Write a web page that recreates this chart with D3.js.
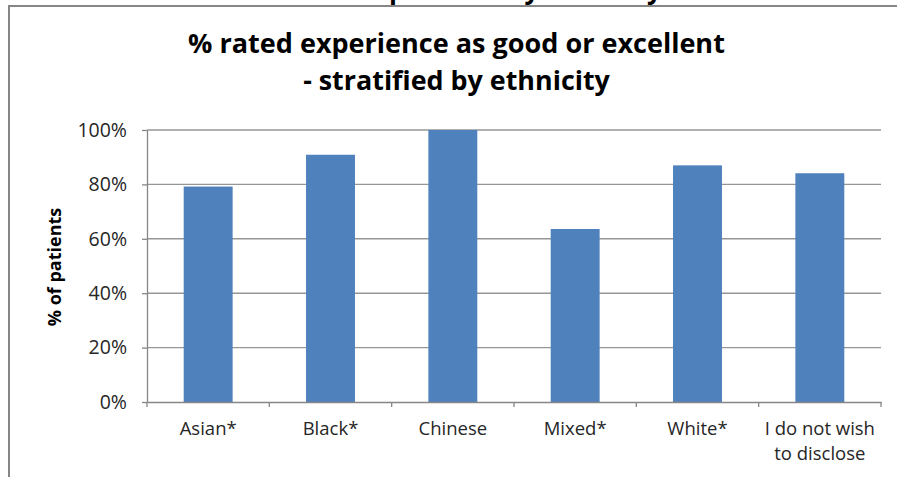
<!DOCTYPE html>
<html>
<head>
<meta charset="utf-8">
<script src="https://cdn.jsdelivr.net/npm/d3@7"></script>
<style>
  body { margin: 0; background: #fff; }
  svg { display: block; }
  text { font-family: "Open Sans", "Noto Sans", sans-serif; }
</style>
</head>
<body>
<svg width="897" height="477"></svg>
<script>
// data
const categories = ["Asian*", "Black*", "Chinese", "Mixed*", "White*", "I do not wish\nto disclose"];
const values = [79.2, 90.9, 100, 63.6, 87.0, 84.1];
const yTicks = [0, 20, 40, 60, 80, 100];
const titleLines = ["% rated experience as good or excellent", "- stratified by ethnicity"];
const yTitle = "% of patients";
const clippedHeading = "Patient experience by ethnicity";

// dimensions
const margin = {top: 130, right: 16, bottom: 75, left: 147};
const width = 897 - margin.left - margin.right;
const height = 477 - margin.top - margin.bottom;

const root = d3.select("svg");

// squeeze/stretch a text to a measured width
function fit(sel, target) {
    const size = parseFloat(sel.style("font-size"));
    const w = sel.node().getComputedTextLength();
    sel.style("font-size", (size * target / w) + "px");
}

// heading cut off by the frame above the chart (only descenders show)
const head = root.append("text")
    .attr("y", -1)
    .style("font-size", "27px")
    .style("font-weight", "bold")
    .text(clippedHeading);
{
    const n = head.node();
    const pIdx = clippedHeading.indexOf("p");
    const yIdx = clippedHeading.length - 1;
    const d = n.getSubStringLength(0, yIdx) - n.getSubStringLength(0, pIdx);
    head.style("font-size", (27 * 258 / d) + "px");
    head.attr("x", 389 - n.getSubStringLength(0, pIdx));
}

// frame
root.append("line")
    .attr("x1", 8).attr("x2", 897).attr("y1", 6).attr("y2", 6)
    .attr("stroke", "#868686").attr("stroke-width", 2);
root.append("line")
    .attr("x1", 9).attr("x2", 9).attr("y1", 5).attr("y2", 477)
    .attr("stroke", "#868686").attr("stroke-width", 2);

// title
titleLines.forEach((t, i) => {
    const el = root.append("text")
        .attr("x", 456.5)
        .attr("y", i === 0 ? 53 : 90)
        .attr("text-anchor", "middle")
        .style("font-size", "27px")
        .style("font-weight", "bold")
        .style("fill", "#000")
        .text(t);
    fit(el, i === 0 ? 537 : 307);
});

const svg = root.append("g")
    .attr("transform", `translate(${margin.left},${margin.top})`);

const x = d3.scaleBand()
    .domain(categories)
    .range([0, width]);

const y = d3.scaleLinear()
    .domain([0, 100])
    .range([height, 0]);

// gridlines
svg.selectAll(".grid")
    .data(yTicks.filter(d => d > 0))
    .enter().append("line")
    .attr("x1", 0)
    .attr("x2", width)
    .attr("y1", d => y(d))
    .attr("y2", d => y(d))
    .attr("stroke", "#969696")
    .attr("stroke-width", 1.4);

// bars
const barW = x.bandwidth() * 0.4;
svg.selectAll(".bar")
    .data(values)
    .enter().append("rect")
    .attr("x", (d, i) => x(categories[i]) + (x.bandwidth() - barW) / 2)
    .attr("y", d => y(d))
    .attr("width", barW)
    .attr("height", d => height - y(d))
    .attr("fill", "#4f81bd");

// y-axis
const yAxis = svg.append("g")
    .call(d3.axisLeft(y)
        .tickValues(yTicks)
        .tickSize(5)
        .tickSizeOuter(0)
        .tickPadding(15)
        .tickFormat(d => d + "%"));
yAxis.select(".domain").attr("stroke", "#868686").attr("stroke-width", 1.3);
yAxis.selectAll(".tick line").attr("stroke", "#868686").attr("stroke-width", 1.3);
yAxis.selectAll("text")
    .style("font-size", "19.5px")
    .style("font-family", "\"Open Sans\", sans-serif")
    .attr("fill", "#262626");

// x-axis
const xAxis = svg.append("g")
    .attr("transform", `translate(0,${height})`)
    .call(d3.axisBottom(x).tickSize(0).tickSizeOuter(0));
xAxis.select(".domain").attr("stroke", "#868686").attr("stroke-width", 1.3);
xAxis.selectAll(".tick text")
    .style("font-size", "18.5px")
    .style("font-family", "\"Open Sans\", sans-serif")
    .attr("fill", "#262626")
    .attr("y", 33)
    .attr("dy", 0)
    .each(function(d) {
        const lines = d.split("\n");
        const t = d3.select(this).text(null);
        lines.forEach((l, i) => t.append("tspan")
            .attr("x", 0)
            .attr("dy", i === 0 ? 0 : 25)
            .text(l));
    });

// category boundary ticks
const bounds = categories.map(c => x(c)).concat([width]);
xAxis.selectAll(".bound")
    .data(bounds)
    .enter().append("line")
    .attr("x1", d => d).attr("x2", d => d)
    .attr("y1", 0).attr("y2", 5)
    .attr("stroke", "#868686")
    .attr("stroke-width", 1.3);

// y-axis label
svg.append("text")
    .attr("transform", "rotate(-90)")
    .attr("x", -(267 - margin.top))
    .attr("y", 55 - margin.left)
    .attr("dy", "0.35em")
    .attr("text-anchor", "middle")
    .style("font-size", "18px")
    .style("font-weight", "bold")
    .text(yTitle);
</script>
</body>
</html>
